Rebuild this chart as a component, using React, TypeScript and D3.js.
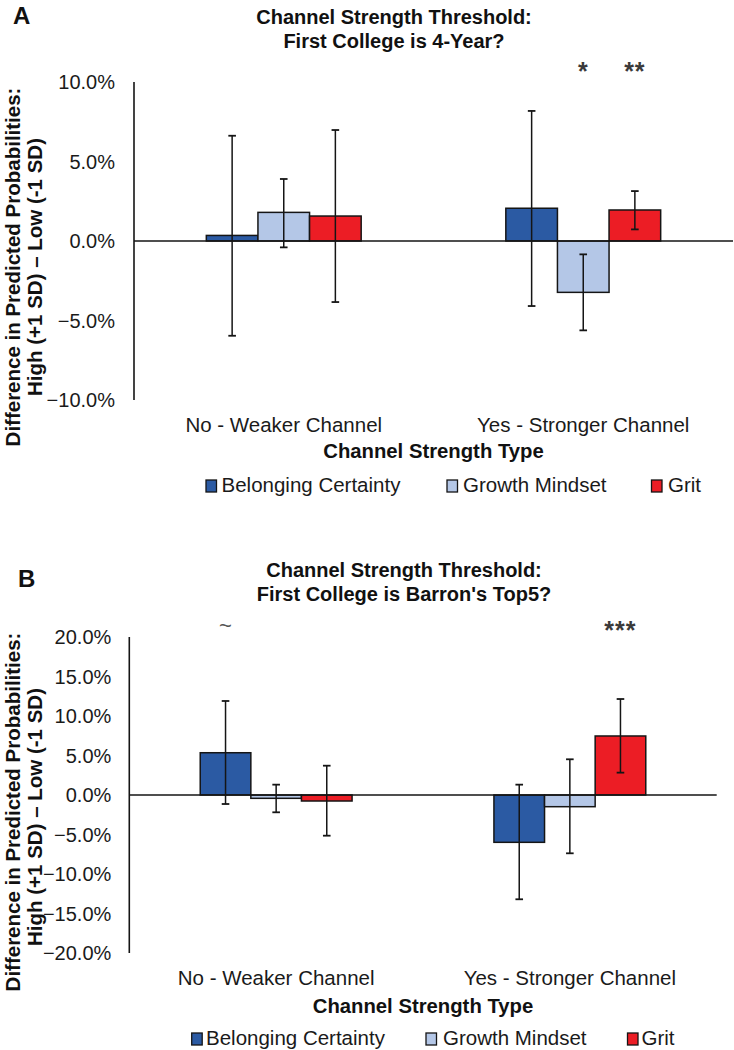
import React from "react";
import * as d3 from "d3";

const categories = ["No - Weaker Channel", "Yes - Stronger Channel"];
const seriesNames = ["Belonging Certainty", "Growth Mindset", "Grit"];
const seriesColors = ["#2B5AA3", "#B4C7E7", "#EC1D25"];

// Panel A: First College is 4-Year?
const aBelonging = [0.35, 2.06];
const aGrowth = [1.8, -3.23];
const aGrit = [1.57, 1.95];
const aBelongingLow = [-5.96, -4.09];
const aBelongingHigh = [6.62, 8.18];
const aGrowthLow = [-0.4, -5.62];
const aGrowthHigh = [3.9, -0.84];
const aGritLow = [-3.84, 0.73];
const aGritHigh = [6.98, 3.14];
const aSig = [["", ""], ["", "*"], ["", "**"]];
const aTicks = [-10, -5, 0, 5, 10];

// Panel B: First College is Barron's Top5?
const bBelonging = [5.35, -5.99];
const bGrowth = [-0.42, -1.48];
const bGrit = [-0.76, 7.47];
const bBelongingLow = [-1.14, -13.2];
const bBelongingHigh = [11.9, 1.31];
const bGrowthLow = [-2.19, -7.38];
const bGrowthHigh = [1.31, 4.52];
const bGritLow = [-5.15, 2.83];
const bGritHigh = [3.71, 12.15];
const bSig = [["~", ""], ["", ""], ["", "***"]];
const bTicks = [-20, -15, -10, -5, 0, 5, 10, 15, 20];

const FONT = "'Liberation Sans', Arial, Helvetica, sans-serif";

type PanelProps = {
  letter: string;
  letterX: number;
  letterY: number;
  title2: string;
  titleX: number;
  titleY: number;
  xRange: [number, number];
  yDomain: [number, number];
  yRange: [number, number];
  ticks: number[];
  values: number[][];
  lows: number[][];
  highs: number[][];
  sig: string[][];
  sigY: number;
  catY: number;
  axisTitleY: number;
  legendY: number;
  legendSquareX: number[];
  legendTextX: number[];
  yLabelCenter1: number;
  yLabelCenter2: number;
  tickOffset: number;
};

function Panel(p: PanelProps) {
  const x0 = d3.scaleBand<string>().domain(categories).range(p.xRange).padding(0);
  const y = d3.scaleLinear().domain(p.yDomain).range(p.yRange);
  const groupW = x0.bandwidth() * 0.517;
  const x1 = d3.scaleBand<string>().domain(seriesNames).range([0, groupW]).padding(0);
  const axisX = p.xRange[0];
  const stroke = "#151515";
  const titleCenter = (p.xRange[0] + p.xRange[1]) / 2;
  return (
    <g>
      <text x={p.letterX} y={p.letterY} fontFamily={FONT} fontWeight="bold" fontSize={24} fill="#111">
        {p.letter}
      </text>
      <text x={p.titleX} y={p.titleY} textAnchor="middle" fontFamily={FONT} fontWeight="bold" fontSize={20} fill="#111">
        Channel Strength Threshold:
      </text>
      <text x={p.titleX} y={p.titleY + 24} textAnchor="middle" fontFamily={FONT} fontWeight="bold" fontSize={20} fill="#111">
        {p.title2}
      </text>
      {/* y axis title */}
      <text
        transform={`translate(20,${p.yLabelCenter1}) rotate(-90)`}
        textAnchor="middle"
        fontFamily={FONT}
        fontWeight="bold"
        fontSize={20.5}
        fill="#111"
      >
        Difference in Predicted Probabilities:
      </text>
      <text
        transform={`translate(42,${p.yLabelCenter2}) rotate(-90)`}
        textAnchor="middle"
        fontFamily={FONT}
        fontWeight="bold"
        fontSize={20.5}
        fill="#111"
      >
        High (+1 SD) – Low (-1 SD)
      </text>
      {/* tick labels */}
      {p.ticks.map((t) => (
        <text
          key={t}
          x={axisX - p.tickOffset}
          y={y(t)}
          dy="0.35em"
          textAnchor="end"
          fontFamily={FONT}
          fontSize={20}
          fill="#1a1a1a"
        >
          {d3.format(".1f")(t) + "%"}
        </text>
      ))}
      {/* bars */}
      {seriesNames.map((s, si) =>
        categories.map((c, ci) => {
          const v = p.values[si][ci];
          const bx = (x0(c) as number) + (x0.bandwidth() - groupW) / 2 + (x1(s) as number);
          const bw = x1.bandwidth();
          const top = y(Math.max(0, v));
          const bot = y(Math.min(0, v));
          return (
            <rect
              key={s + c}
              x={bx}
              y={top}
              width={bw}
              height={Math.max(0.5, bot - top)}
              fill={seriesColors[si]}
              stroke={stroke}
              strokeWidth={1.5}
            />
          );
        })
      )}
      {/* axis lines */}
      <line x1={axisX} x2={axisX} y1={y(p.yDomain[1])} y2={y(p.yDomain[0])} stroke={stroke} strokeWidth={1.6} />
      <line x1={axisX} x2={p.xRange[1]} y1={y(0)} y2={y(0)} stroke={stroke} strokeWidth={1.6} />
      {/* error bars */}
      {seriesNames.map((s, si) =>
        categories.map((c, ci) => {
          const cx = (x0(c) as number) + (x0.bandwidth() - groupW) / 2 + (x1(s) as number) + x1.bandwidth() / 2;
          const lo = y(p.lows[si][ci]);
          const hi = y(p.highs[si][ci]);
          return (
            <g key={"e" + s + c} stroke={stroke} strokeWidth={1.5}>
              <line x1={cx} x2={cx} y1={hi} y2={lo} />
              <line x1={cx - 3.8} x2={cx + 3.8} y1={hi} y2={hi} strokeWidth={1.8} />
              <line x1={cx - 3.8} x2={cx + 3.8} y1={lo} y2={lo} strokeWidth={1.8} />
            </g>
          );
        })
      )}
      {/* significance */}
      {seriesNames.map((s, si) =>
        categories.map((c, ci) => {
          const lab = p.sig[si][ci];
          if (!lab) return null;
          const cx = (x0(c) as number) + (x0.bandwidth() - groupW) / 2 + (x1(s) as number) + x1.bandwidth() / 2;
          const isTilde = lab === "~";
          return (
            <text
              key={"s" + s + c}
              x={cx}
              y={p.sigY + (isTilde ? 7 : 13)}
              textAnchor="middle"
              fontFamily={FONT}
              fontWeight={isTilde ? "normal" : "bold"}
              fontSize={isTilde ? 22 : 25}
              fill={isTilde ? "#555" : "#3a3a3a"}
              letterSpacing={isTilde ? 0 : 1}
            >
              {lab}
            </text>
          );
        })
      )}
      {/* category labels */}
      {categories.map((c) => (
        <text
          key={c}
          x={(x0(c) as number) + x0.bandwidth() / 2}
          y={p.catY}
          textAnchor="middle"
          fontFamily={FONT}
          fontSize={20.5}
          fill="#1a1a1a"
        >
          {c}
        </text>
      ))}
      <text x={titleCenter} y={p.axisTitleY} textAnchor="middle" fontFamily={FONT} fontWeight="bold" fontSize={20.3} fill="#111">
        Channel Strength Type
      </text>
      {/* legend */}
      {seriesNames.map((s, si) => (
        <g key={"l" + s}>
          <rect
            x={p.legendSquareX[si]}
            y={p.legendY - 12}
            width={10.5}
            height={12}
            fill={seriesColors[si]}
            stroke={stroke}
            strokeWidth={1.3}
          />
          <text x={p.legendTextX[si]} y={p.legendY} fontFamily={FONT} fontSize={20.5} fill="#1a1a1a">
            {s}
          </text>
        </g>
      ))}
    </g>
  );
}

export default function App() {
  return (
    <svg
      width={734}
      height={1050}
      viewBox="0 0 734 1050"
      style={{ position: "absolute", left: 0, top: 0, background: "#fff" }}
    >
      <rect x={0} y={0} width={734} height={1050} fill="#fff" />
      <Panel
        letter="A"
        letterX={13}
        letterY={24}
        title2="First College is 4-Year?"
        titleX={394}
        titleY={24}
        xRange={[134, 733]}
        yDomain={[-10, 10]}
        yRange={[400, 82]}
        ticks={aTicks}
        values={[aBelonging, aGrowth, aGrit]}
        lows={[aBelongingLow, aGrowthLow, aGritLow]}
        highs={[aBelongingHigh, aGrowthHigh, aGritHigh]}
        sig={aSig}
        sigY={67}
        catY={432}
        axisTitleY={458}
        legendY={492}
        legendSquareX={[206, 447, 651.5]}
        legendTextX={[221.5, 463, 668]}
        yLabelCenter1={267}
        yLabelCenter2={267}
        tickOffset={19}
      />
      <Panel
        letter="B"
        letterX={18}
        letterY={587}
        title2="First College is Barron's Top5?"
        titleX={404}
        titleY={577}
        xRange={[129.3, 716.7]}
        yDomain={[-20, 20]}
        yRange={[953, 637]}
        ticks={bTicks}
        values={[bBelonging, bGrowth, bGrit]}
        lows={[bBelongingLow, bGrowthLow, bGritLow]}
        highs={[bBelongingHigh, bGrowthHigh, bGritHigh]}
        sig={bSig}
        sigY={626}
        catY={985}
        axisTitleY={1013}
        legendY={1045}
        legendSquareX={[191.7, 426, 627.5]}
        legendTextX={[206, 443, 641.5]}
        yLabelCenter1={812}
        yLabelCenter2={817}
        tickOffset={18}
      />
    </svg>
  );
}
